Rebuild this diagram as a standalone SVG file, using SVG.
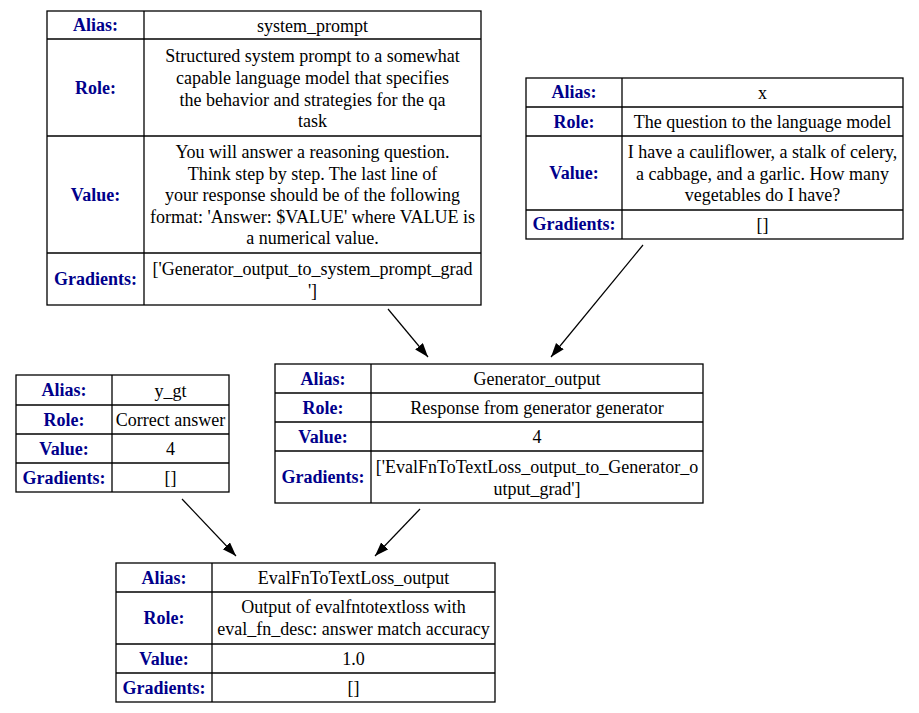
<svg xmlns="http://www.w3.org/2000/svg" width="919" height="713" viewBox="0 0 919 713">
<defs>
<style>
.bg{fill:#fff}
.box{fill:none;stroke:#000;stroke-width:1.3}
.ln{stroke:#000;stroke-width:1.3}
.lbl{font-family:"Liberation Serif","Times New Roman",serif;font-size:18px;font-weight:bold;fill:#00008b;text-anchor:middle}
.val{font-family:"Liberation Serif","Times New Roman",serif;font-size:18px;fill:#000;text-anchor:middle}
.edge{stroke:#000;stroke-width:1.2;fill:none;marker-end:url(#arr)}
</style>
<marker id="arr" markerUnits="userSpaceOnUse" markerWidth="15" markerHeight="11" refX="14" refY="5" orient="auto">
<path d="M0,0 L14,5 L0,10 z" fill="#000"/>
</marker>
</defs>
<rect class="bg" x="0" y="0" width="919" height="713"/>

<g id="edges">
<line class="edge" x1="388" y1="309" x2="428" y2="357"/>
<line class="edge" x1="643" y1="245" x2="551" y2="357"/>
<line class="edge" x1="182" y1="499" x2="236" y2="556"/>
<line class="edge" x1="420" y1="509" x2="375" y2="556"/>
</g>

<g id="system_prompt">
<rect class="box" x="47" y="11" width="434" height="294"/>
<line class="ln" x1="144" y1="11" x2="144" y2="305"/>
<line class="ln" x1="47" y1="39" x2="481" y2="39"/>
<line class="ln" x1="47" y1="136" x2="481" y2="136"/>
<line class="ln" x1="47" y1="253" x2="481" y2="253"/>
<text class="lbl" x="95.5" y="31">Alias:</text>
<text class="val" x="312.5" y="32">system_prompt</text>
<text class="lbl" x="95.5" y="93.5">Role:</text>
<text class="val" x="312.5" y="62">Structured system prompt to a somewhat</text>
<text class="val" x="312.5" y="84">capable language model that specifies</text>
<text class="val" x="312.5" y="105.5">the behavior and strategies for the qa</text>
<text class="val" x="312.5" y="127">task</text>
<text class="lbl" x="95.5" y="200.5">Value:</text>
<text class="val" x="312.5" y="158">You will answer a reasoning question.</text>
<text class="val" x="312.5" y="179.5">Think step by step. The last line of</text>
<text class="val" x="312.5" y="201">your response should be of the following</text>
<text class="val" x="312.5" y="222.5">format: 'Answer: $VALUE' where VALUE is</text>
<text class="val" x="312.5" y="244">a numerical value.</text>
<text class="lbl" x="95.5" y="285">Gradients:</text>
<text class="val" x="312.5" y="275">['Generator_output_to_system_prompt_grad</text>
<text class="val" x="312.5" y="297">']</text>
</g>

<g id="x">
<rect class="box" x="526" y="78" width="377" height="161"/>
<line class="ln" x1="622" y1="78" x2="622" y2="239"/>
<line class="ln" x1="526" y1="107" x2="903" y2="107"/>
<line class="ln" x1="526" y1="136" x2="903" y2="136"/>
<line class="ln" x1="526" y1="210" x2="903" y2="210"/>
<text class="lbl" x="574" y="98">Alias:</text>
<text class="val" x="762.5" y="99">x</text>
<text class="lbl" x="574" y="127.5">Role:</text>
<text class="val" x="762.5" y="128">The question to the language model</text>
<text class="lbl" x="574" y="179">Value:</text>
<text class="val" x="762.5" y="158">I have a cauliflower, a stalk of celery,</text>
<text class="val" x="762.5" y="179.5">a cabbage, and a garlic. How many</text>
<text class="val" x="762.5" y="201">vegetables do I have?</text>
<text class="lbl" x="574" y="230">Gradients:</text>
<text class="val" x="762.5" y="231">[]</text>
</g>

<g id="y_gt">
<rect class="box" x="16" y="375" width="213" height="117"/>
<line class="ln" x1="112" y1="375" x2="112" y2="492"/>
<line class="ln" x1="16" y1="405" x2="229" y2="405"/>
<line class="ln" x1="16" y1="434" x2="229" y2="434"/>
<line class="ln" x1="16" y1="463" x2="229" y2="463"/>
<text class="lbl" x="64" y="396">Alias:</text>
<text class="val" x="170.5" y="397">y_gt</text>
<text class="lbl" x="64" y="425.5">Role:</text>
<text class="val" x="170.5" y="426">Correct answer</text>
<text class="lbl" x="64" y="454.5">Value:</text>
<text class="val" x="170.5" y="455">4</text>
<text class="lbl" x="64" y="483.5">Gradients:</text>
<text class="val" x="170.5" y="484">[]</text>
</g>

<g id="Generator_output">
<rect class="box" x="275" y="364" width="428" height="139"/>
<line class="ln" x1="371" y1="364" x2="371" y2="503"/>
<line class="ln" x1="275" y1="393" x2="703" y2="393"/>
<line class="ln" x1="275" y1="422" x2="703" y2="422"/>
<line class="ln" x1="275" y1="451" x2="703" y2="451"/>
<text class="lbl" x="323" y="384.5">Alias:</text>
<text class="val" x="537" y="385">Generator_output</text>
<text class="lbl" x="323" y="413.5">Role:</text>
<text class="val" x="537" y="414">Response from generator generator</text>
<text class="lbl" x="323" y="442.5">Value:</text>
<text class="val" x="537" y="443">4</text>
<text class="lbl" x="323" y="483">Gradients:</text>
<text class="val" x="537" y="473">['EvalFnToTextLoss_output_to_Generator_o</text>
<text class="val" x="537" y="495">utput_grad']</text>
</g>

<g id="EvalFnToTextLoss_output">
<rect class="box" x="116" y="563" width="379" height="139"/>
<line class="ln" x1="212" y1="563" x2="212" y2="702"/>
<line class="ln" x1="116" y1="592" x2="495" y2="592"/>
<line class="ln" x1="116" y1="644" x2="495" y2="644"/>
<line class="ln" x1="116" y1="673" x2="495" y2="673"/>
<text class="lbl" x="164" y="583.5">Alias:</text>
<text class="val" x="353.5" y="584">EvalFnToTextLoss_output</text>
<text class="lbl" x="164" y="624">Role:</text>
<text class="val" x="353.5" y="613">Output of evalfntotextloss with</text>
<text class="val" x="353.5" y="635">eval_fn_desc: answer match accuracy</text>
<text class="lbl" x="164" y="664.5">Value:</text>
<text class="val" x="353.5" y="665">1.0</text>
<text class="lbl" x="164" y="693.5">Gradients:</text>
<text class="val" x="353.5" y="694">[]</text>
</g>
</svg>
